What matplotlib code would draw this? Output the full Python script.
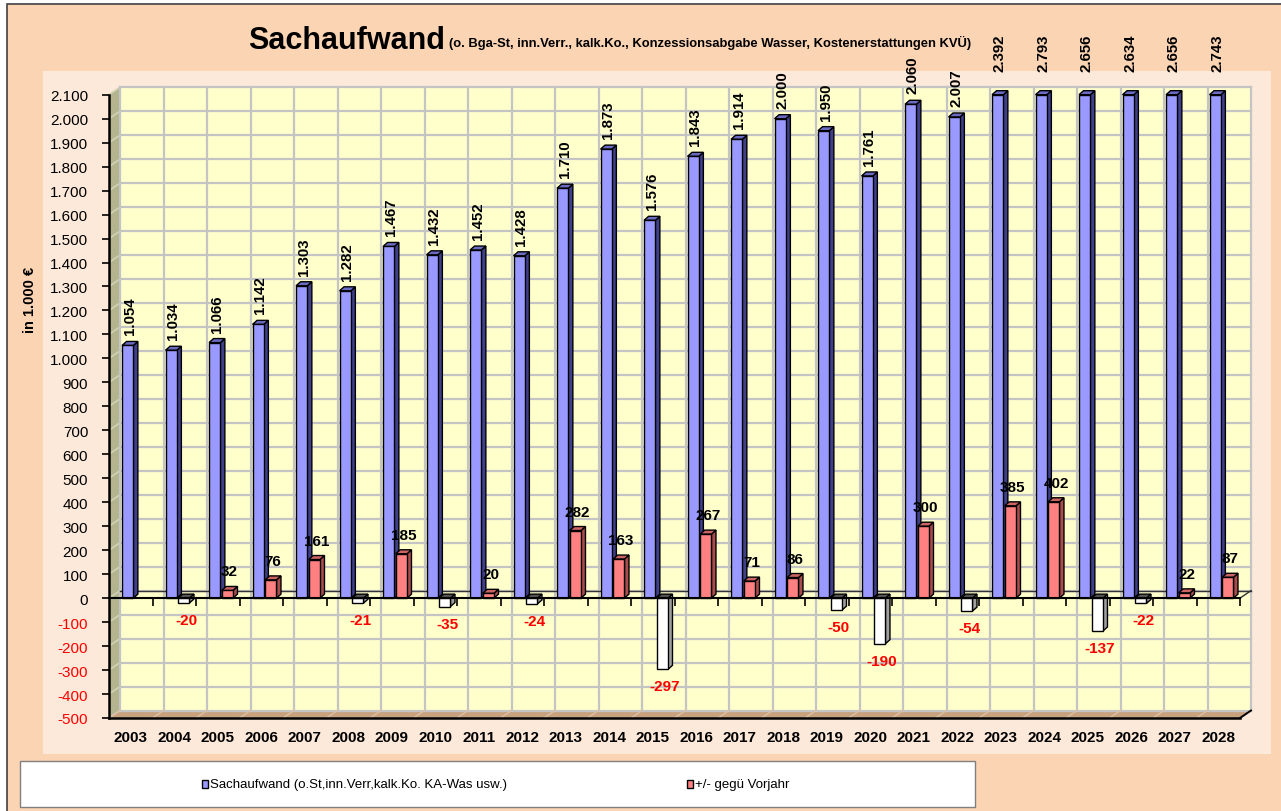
import matplotlib
matplotlib.use("Agg")
import matplotlib.pyplot as plt
from matplotlib.patches import Rectangle, Polygon
from matplotlib import font_manager
import numpy as np

years = [str(y) for y in range(2003, 2029)]
sachaufwand = [1054, 1034, 1066, 1142, 1303, 1282, 1467, 1432, 1452, 1428, 1710, 1873, 1576,
               1843, 1914, 2000, 1950, 1761, 2060, 2007, 2392, 2793, 2656, 2634, 2656, 2743]
diff = [None, -20, 32, 76, 161, -21, 185, -35, 20, -24, 282, 163, -297,
        267, 71, 86, -50, -190, 300, -54, 385, 402, -137, -22, 22, 87]
yticks = list(range(-500, 2101, 100))

names = {f.name for f in font_manager.fontManager.ttflist}
plt.rcParams['font.family'] = ['Liberation Sans', 'DejaVu Sans']
narrow = ['Liberation Sans Narrow'] if 'Liberation Sans Narrow' in names else ['Liberation Sans']

W, H = 1281, 812
fig = plt.figure(figsize=(W / 100, H / 100), dpi=100)
fig.patch.set_facecolor('white')


def frect(x, y, w, h, z=2, **kw):
    r = Rectangle((x / W, 1 - (y + h) / H), w / W, h / H, transform=fig.transFigure, zorder=z, **kw)
    fig.add_artist(r)
    return r


# backgrounds
frect(7, 5, 1290, 820, z=-10, facecolor='#FBD4B4', edgecolor='#404040', lw=1.2)
frect(43, 72, 1228, 683, z=-9, facecolor='#FDE9D9', edgecolor='none')

L, R, T, B = 109, 1240, 95.7, 719
ax = fig.add_axes([L / W, 1 - B / H, (R - L) / W, (B - T) / H])
ax.patch.set_visible(False)
n = len(years)
x0, x1 = -0.5, n - 0.5
ymin, ymax = -500, 2100
ax.set_xlim(x0, x1)
ax.set_ylim(ymin, ymax)

ppx = (R - L) / n
ppy = (B - T) / (ymax - ymin)
WDX, WDY = 11 / ppx, 7.5 / ppy   # wall depth
BDX, BDY = 4.5 / ppx, 4 / ppy    # bar depth


def poly(pts, **kw):
    p = Polygon(pts, closed=True, clip_on=False, **kw)
    ax.add_patch(p)
    return p


# walls
poly([(x0 + WDX, ymin + WDY), (x1 + WDX, ymin + WDY), (x1 + WDX, ymax + WDY), (x0 + WDX, ymax + WDY)],
     facecolor='#FFFFCC', edgecolor='none', zorder=0)
poly([(x0, ymin), (x0 + WDX, ymin + WDY), (x0 + WDX, ymax + WDY), (x0, ymax)],
     facecolor='#B4B48E', edgecolor='none', zorder=0)
poly([(x0, ymin), (x1, ymin), (x1 + WDX, ymin + WDY), (x0 + WDX, ymin + WDY)],
     facecolor='#C8A27E', edgecolor='none', zorder=0)

for v in yticks:
    ax.plot([x0 + WDX, x1 + WDX], [v + WDY, v + WDY], color='#C4C4C4', lw=1.6, zorder=0.5, clip_on=False)
    ax.plot([x0, x0 + WDX], [v, v + WDY], color='#D2D2B4', lw=1.2, zorder=0.5, clip_on=False)
bounds = np.arange(n + 1) - 0.5
for b in bounds:
    ax.plot([b + WDX, b + WDX], [ymin + WDY, ymax + WDY], color='#C4C4C4', lw=1.6, zorder=0.5, clip_on=False)
    ax.plot([b, b + WDX], [ymin, ymin + WDY], color='#DCC0A4', lw=1.0, zorder=0.5, clip_on=False)

# zero plane edges
ax.plot([x0 + WDX, x1 + WDX], [WDY, WDY], color='#333333', lw=1.0, zorder=1, clip_on=False)
ax.plot([x1, x1 + WDX], [0, WDY], color='#333333', lw=1.0, zorder=1, clip_on=False)
ax.plot([x1, x1 + WDX], [ymin, ymin + WDY], color='black', lw=1.4, zorder=1, clip_on=False)


def bar3d(xl, w, v, front, side, top):
    lo, hi = min(0, v), max(0, v)
    hi = min(hi, ymax)
    kw = dict(edgecolor='black', lw=1.0, zorder=3)
    poly([(xl + w, lo), (xl + w + BDX, lo + BDY), (xl + w + BDX, hi + BDY), (xl + w, hi)], facecolor=side, **kw)
    poly([(xl, hi), (xl + w, hi), (xl + w + BDX, hi + BDY), (xl + BDX, hi + BDY)], facecolor=top, **kw)
    poly([(xl, lo), (xl + w, lo), (xl + w, hi), (xl, hi)], facecolor=front, **kw)


def fmt(v):
    return f"{v:,}".replace(',', '.')


bw = 0.26
for i, (s, d) in enumerate(zip(sachaufwand, diff)):
    xb = i - 0.2
    bar3d(xb, bw, s, '#9999FF', '#3F3F8C', '#6B6BC4')
    gap = 11 if s <= ymax else 24
    ax.annotate(fmt(s), xy=(xb + bw / 2 + BDX / 2, min(s, ymax)), xytext=(0, gap),
                textcoords='offset pixels', rotation=90, ha='center', va='bottom',
                fontsize=10.8, fontweight='bold', color='black', annotation_clip=False, zorder=5)
    if d is None:
        continue
    xr = i + 0.09
    if d >= 0:
        bar3d(xr, bw, d, '#FF8080', '#A84C4C', '#CC6464')
        ax.annotate(fmt(d), xy=(xr + bw / 2 + BDX / 2, d), xytext=(0, 12),
                    textcoords='offset pixels', ha='center', va='bottom',
                    fontsize=11, fontweight='bold', color='black', annotation_clip=False, zorder=5)
    else:
        bar3d(xr, bw, d, '#FFFFFF', '#A0A0A0', '#555555')
        ax.annotate(fmt(d), xy=(xr + bw / 2 + BDX / 2, d), xytext=(0, -10),
                    textcoords='offset pixels', ha='center', va='top',
                    fontsize=11, fontweight='bold', color='#FF0000', annotation_clip=False, zorder=5)

# front zero line with ticks
ax.plot([x0, x1], [0, 0], color='black', lw=1.5, zorder=4, clip_on=False)
ax.plot(bounds[1:], np.zeros(n), linestyle='none', marker=3, markersize=6, color='black',
        mew=1.2, zorder=4, clip_on=False)

for sp in ['top', 'right']:
    ax.spines[sp].set_visible(False)
ax.spines['left'].set_linewidth(1.8)
ax.spines['bottom'].set_linewidth(1.8)
ax.spines['left'].set_zorder(4)
ax.spines['bottom'].set_zorder(4)

ax.set_yticks(yticks)
ax.set_yticklabels([fmt(v) for v in yticks], fontsize=11)
for lab, v in zip(ax.get_yticklabels(), yticks):
    lab.set_color('#FF0000' if v < 0 else 'black')
ax.tick_params(axis='y', length=5, width=1.2, pad=10)
ax.set_xticks(range(n))
ax.set_xticklabels(years, fontsize=11, fontweight='bold')
ax.tick_params(axis='x', length=0, pad=9)

fig.text(30 / W, 1 - 300 / H, 'in 1.000 €', rotation=90, ha='center', va='center',
         fontsize=10.5, fontweight='bold')

title = fig.text(248 / W, 1 - 49 / H, 'Sachaufwand', fontsize=22, fontweight='bold', va='baseline')
fig.canvas.draw()
bb = title.get_window_extent(fig.canvas.get_renderer())
fig.text((bb.x1 + 4) / W, 1 - 47 / H,
         '(o. Bga-St, inn.Verr., kalk.Ko., Konzessionsabgabe Wasser, Kostenerstattungen KVÜ)',
         fontsize=9.4, fontweight='bold', va='baseline')

# legend
frect(20, 762, 955, 46, z=2, facecolor='white', edgecolor='#808080', lw=1.0)
frect(202, 781, 6, 8, z=3, facecolor='#9999FF', edgecolor='black', lw=1.0)
fig.text(210 / W, 1 - 785 / H, 'Sachaufwand (o.St,inn.Verr,kalk.Ko. KA-Was usw.)',
         fontsize=9.5, family=narrow, va='center', zorder=4)
frect(687, 781, 6, 8, z=3, facecolor='#FF8080', edgecolor='black', lw=1.0)
fig.text(695 / W, 1 - 785 / H, '+/- gegü Vorjahr', fontsize=9.5, family=narrow, va='center', zorder=4)

fig.savefig('out.png', dpi=100)
